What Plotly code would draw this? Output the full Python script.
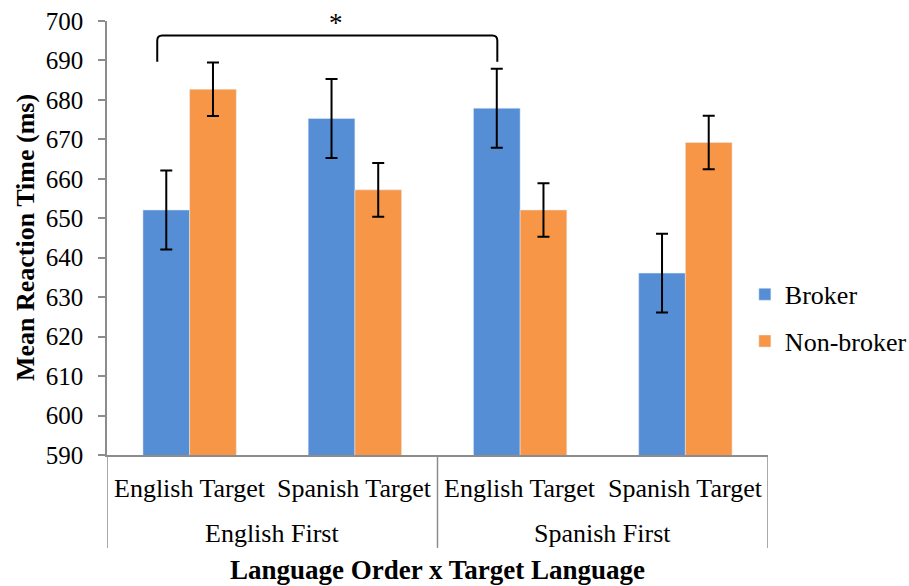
import plotly.graph_objects as go

# Mean reaction time by language order and target language
target_labels = ["English Target", "Spanish Target", "English Target", "Spanish Target"]
order_labels = ["English First", "Spanish First"]
broker_means = [652.1, 675.3, 677.9, 636.1]
broker_err = [10.0, 10.0, 10.0, 10.0]
nonbroker_means = [682.7, 657.2, 652.1, 669.2]
nonbroker_err = [6.8, 6.8, 6.8, 6.8]
y_ticks = list(range(590, 701, 10))

# significance bracket (x in category units, y in ms)
bracket_x = [-0.196, 1.862]
bracket_y = [689.7, 696.3]
star_x = 0.886

FONT = "Liberation Serif"
BLUE = "#558ED5"
ORANGE = "#F79646"
AXIS = "#8C8C8C"

xpos = list(range(len(target_labels)))

fig = go.Figure()
fig.add_trace(go.Bar(
    x=xpos, y=broker_means, name="Broker", marker_color=BLUE, legendgroup="b",
    error_y=dict(type="data", array=broker_err, color="black", thickness=2, width=6),
))
fig.add_trace(go.Bar(
    x=xpos, y=nonbroker_means, name="Non-broker", marker_color=ORANGE, legendgroup="n",
    error_y=dict(type="data", array=nonbroker_err, color="black", thickness=2, width=6),
))

fig.update_layout(
    width=909, height=586,
    margin=dict(l=107, r=141, t=21, b=131, autoexpand=False),
    paper_bgcolor="white", plot_bgcolor="white",
    barmode="group", bargap=0.435, bargroupgap=0,
    font=dict(family=FONT, size=25, color="black"),
    showlegend=True,
    legend=dict(x=0.965, y=0.316, xanchor="left", yanchor="middle",
                font=dict(family=FONT, size=26, color="black"),
                bgcolor="rgba(0,0,0,0)", tracegroupgap=10, itemwidth=30),
)

fig.update_xaxes(
    range=[-0.5, len(target_labels) - 0.5], showticklabels=False, ticks="",
    showgrid=False, zeroline=False, showline=True, linecolor=AXIS, linewidth=1.5,
)
fig.update_yaxes(
    range=[590, 700], tickvals=y_ticks, ticks="outside", ticklen=7, tickcolor=AXIS,
    tickwidth=1.5, showgrid=False, zeroline=False, showline=True, linecolor=AXIS,
    linewidth=1.5, ticklabelstandoff=10,
    tickfont=dict(family=FONT, size=25, color="black"),
)

# category labels (two levels) and group dividers
for i, lab in enumerate(target_labels):
    fig.add_annotation(x=i, y=-0.077, xref="x", yref="paper", text=lab,
                       showarrow=False, yanchor="middle",
                       font=dict(family=FONT, size=26, color="black"))
n_per_group = len(target_labels) // len(order_labels)
for g, lab in enumerate(order_labels):
    cx = g * n_per_group + (n_per_group - 1) / 2
    fig.add_annotation(x=cx, y=-0.182, xref="x", yref="paper", text=lab,
                       showarrow=False, yanchor="middle",
                       font=dict(family=FONT, size=26, color="black"))
for g in range(len(order_labels) + 1):
    xd = g * n_per_group - 0.5
    fig.add_shape(type="line", xref="x", yref="paper", x0=xd, x1=xd, y0=0, y1=-0.214,
                  line=dict(color=AXIS, width=1.5))

# axis titles
fig.add_annotation(x=0.5, y=-131 / 434, xref="paper", yref="paper",
                   text="<b>Language Order x Target Language</b>", showarrow=False,
                   yanchor="bottom", borderpad=0,
                   font=dict(family=FONT, size=27, color="black"))
fig.add_annotation(x=-0.124, y=0.5, xref="paper", yref="paper",
                   text="<b>Mean Reaction Time (ms)</b>", showarrow=False, textangle=-90,
                   xanchor="center", yanchor="middle",
                   font=dict(family=FONT, size=26, color="black"))

# significance bracket with rounded corners
x0, x1 = bracket_x
yb, yt = bracket_y
rx, ry = 0.03, 1.3
path = (f"M {x0},{yb} L {x0},{yt - ry} Q {x0},{yt} {x0 + rx},{yt} "
        f"L {x1 - rx},{yt} Q {x1},{yt} {x1},{yt - ry} L {x1},{yb}")
fig.add_shape(type="path", path=path, xref="x", yref="y",
              line=dict(color="black", width=2))
fig.add_annotation(x=star_x, y=699.4, xref="x", yref="y", text="*", showarrow=False,
                   yanchor="middle", font=dict(family=FONT, size=27, color="black"))

fig.write_html("out.html")
